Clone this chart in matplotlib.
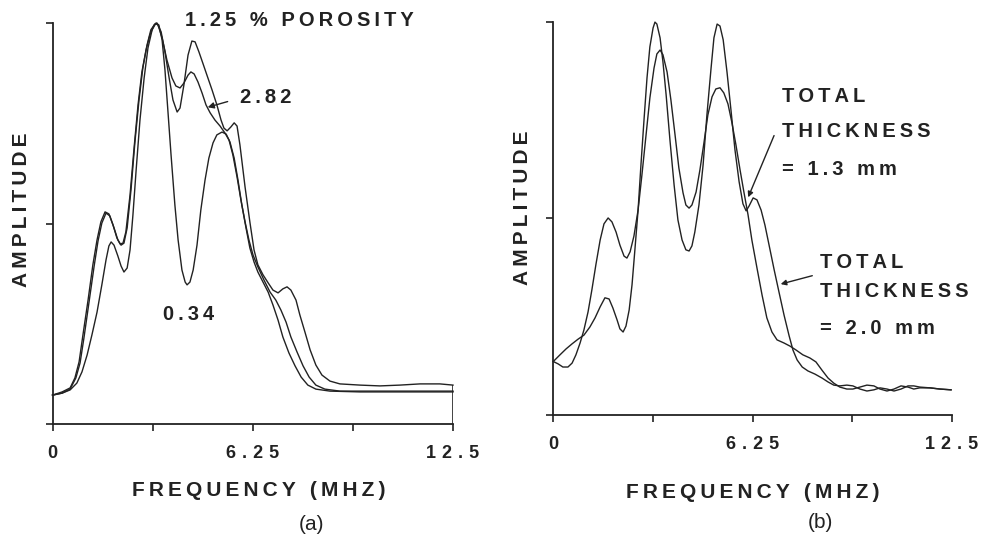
import matplotlib
matplotlib.use("Agg")
import matplotlib.pyplot as plt

# ---- data (frequency in MHz, amplitude normalised) ----
FREQ_MAX = 12.5
x_ticks = [0, 3.125, 6.25, 9.375, 12.5]
x_tick_labels = ["0", "", "6.25", "", "12.5"]
y_ticks = [0, 0.5, 1.0]

# (a) porosity 1.25 %
freq_125 = [0, 0.30, 0.55, 0.70, 0.83, 0.95, 1.11, 1.26, 1.39, 1.51, 1.64, 1.76, 1.89, 2.01,
            2.11, 2.20, 2.29, 2.42, 2.54, 2.67, 2.79, 2.92, 3.04, 3.17, 3.26, 3.39, 3.51, 3.64,
            3.76, 3.89, 3.98, 4.10, 4.23, 4.35, 4.45, 4.57, 4.70, 4.82, 4.98, 5.13, 5.26, 5.35,
            5.45, 5.57, 5.67, 5.76, 5.85, 6.01, 6.16, 6.29, 6.41, 6.57, 6.73, 6.88, 7.04, 7.19,
            7.32, 7.44, 7.60, 7.72, 7.88, 8.04, 8.22, 8.41, 8.66, 8.97, 9.60, 10.22, 10.84,
            11.47, 12.09, 12.5]
amp_125 = [0.072, 0.080, 0.090, 0.115, 0.155, 0.222, 0.309, 0.397, 0.459, 0.504, 0.529, 0.524,
           0.496, 0.464, 0.449, 0.451, 0.479, 0.571, 0.683, 0.796, 0.878, 0.933, 0.970, 0.995,
           1.000, 0.978, 0.928, 0.863, 0.808, 0.778, 0.788, 0.845, 0.920, 0.955, 0.953, 0.928,
           0.898, 0.870, 0.833, 0.796, 0.758, 0.738, 0.731, 0.741, 0.751, 0.743, 0.696, 0.591,
           0.504, 0.434, 0.397, 0.372, 0.352, 0.334, 0.327, 0.337, 0.342, 0.334, 0.309, 0.272,
           0.229, 0.185, 0.147, 0.122, 0.107, 0.100, 0.097, 0.095, 0.097, 0.100, 0.100, 0.097]

# (a) porosity 2.82 %
freq_282 = [0, 0.30, 0.55, 0.73, 0.86, 0.98, 1.14, 1.30, 1.42, 1.54, 1.67, 1.79, 1.92, 2.04,
            2.14, 2.23, 2.33, 2.45, 2.57, 2.70, 2.82, 2.95, 3.07, 3.20, 3.29, 3.42, 3.57, 3.73,
            3.85, 3.98, 4.10, 4.23, 4.32, 4.42, 4.54, 4.67, 4.79, 4.92, 5.07, 5.23, 5.38, 5.51,
            5.63, 5.76, 5.88, 6.01, 6.13, 6.26, 6.41, 6.60, 6.79, 6.97, 7.13, 7.29, 7.44, 7.63,
            7.82, 8.01, 8.22, 8.50, 8.97, 9.91, 10.84, 11.78, 12.5]
amp_282 = [0.072, 0.077, 0.087, 0.115, 0.152, 0.214, 0.304, 0.394, 0.456, 0.501, 0.526, 0.519,
           0.489, 0.459, 0.446, 0.451, 0.489, 0.584, 0.701, 0.808, 0.888, 0.945, 0.983, 0.998,
           0.996, 0.963, 0.908, 0.863, 0.843, 0.838, 0.850, 0.870, 0.878, 0.873, 0.853, 0.825,
           0.796, 0.776, 0.758, 0.743, 0.726, 0.708, 0.671, 0.616, 0.559, 0.504, 0.459, 0.421,
           0.392, 0.359, 0.329, 0.309, 0.284, 0.254, 0.217, 0.180, 0.145, 0.117, 0.097, 0.087,
           0.082, 0.082, 0.082, 0.082, 0.082]

# (a) porosity 0.34 %
freq_034 = [0, 0.30, 0.55, 0.76, 0.92, 1.08, 1.23, 1.39, 1.54, 1.67, 1.76, 1.83, 1.92, 2.04,
            2.14, 2.23, 2.33, 2.42, 2.51, 2.61, 2.73, 2.86, 2.98, 3.11, 3.23, 3.32, 3.42, 3.51,
            3.60, 3.70, 3.82, 3.92, 4.04, 4.14, 4.20, 4.29, 4.39, 4.51, 4.63, 4.76, 4.88, 5.01,
            5.13, 5.29, 5.42, 5.54, 5.67, 5.79, 5.91, 6.04, 6.16, 6.29, 6.41, 6.57, 6.73, 6.88,
            7.04, 7.19, 7.38, 7.57, 7.76, 7.97, 8.22, 8.66, 9.60, 10.84, 11.78, 12.5]
amp_034 = [0.072, 0.077, 0.085, 0.102, 0.130, 0.172, 0.222, 0.279, 0.347, 0.409, 0.444, 0.454,
           0.446, 0.419, 0.394, 0.379, 0.389, 0.434, 0.521, 0.633, 0.758, 0.863, 0.938, 0.983,
           1.000, 0.995, 0.958, 0.883, 0.783, 0.671, 0.546, 0.459, 0.384, 0.354, 0.347, 0.354,
           0.384, 0.446, 0.534, 0.608, 0.663, 0.701, 0.721, 0.728, 0.723, 0.703, 0.663, 0.608,
           0.546, 0.489, 0.439, 0.404, 0.379, 0.354, 0.329, 0.297, 0.259, 0.217, 0.177, 0.145,
           0.117, 0.097, 0.087, 0.082, 0.080, 0.080, 0.080, 0.080]

# (b) total thickness 1.3 mm
freq_13 = [0, 0.15, 0.30, 0.46, 0.59, 0.71, 0.84, 0.96, 1.09, 1.21, 1.34, 1.47, 1.59, 1.72,
           1.84, 1.97, 2.09, 2.22, 2.31, 2.41, 2.53, 2.66, 2.78, 2.91, 3.03, 3.16, 3.25, 3.35,
           3.44, 3.57, 3.69, 3.82, 3.94, 4.07, 4.16, 4.26, 4.35, 4.48, 4.60, 4.73, 4.85, 4.98,
           5.10, 5.23, 5.35, 5.48, 5.60, 5.73, 5.86, 5.98, 6.11, 6.23, 6.39, 6.55, 6.70, 6.86,
           7.02, 7.24, 7.43, 7.62, 7.83, 8.05, 8.24, 8.43, 8.62, 8.80, 8.99, 9.21, 9.40, 9.62,
           9.84, 10.06, 10.25, 10.47, 10.69, 10.91, 11.13, 11.31, 11.50, 11.82, 12.13, 12.48]
amp_13 = [0.136, 0.130, 0.122, 0.122, 0.132, 0.153, 0.183, 0.216, 0.262, 0.318, 0.384, 0.445,
          0.486, 0.501, 0.491, 0.465, 0.432, 0.404, 0.399, 0.415, 0.455, 0.521, 0.610, 0.712,
          0.806, 0.882, 0.918, 0.928, 0.916, 0.872, 0.801, 0.712, 0.628, 0.565, 0.534, 0.526,
          0.534, 0.567, 0.623, 0.694, 0.763, 0.809, 0.829, 0.832, 0.819, 0.791, 0.745, 0.687,
          0.623, 0.567, 0.509, 0.445, 0.374, 0.305, 0.247, 0.211, 0.191, 0.183, 0.175, 0.165,
          0.153, 0.145, 0.135, 0.114, 0.094, 0.081, 0.071, 0.066, 0.066, 0.071, 0.076, 0.074,
          0.066, 0.061, 0.066, 0.074, 0.071, 0.066, 0.069, 0.069, 0.066, 0.064]

# (b) total thickness 2.0 mm
freq_20 = [0, 0.21, 0.40, 0.59, 0.78, 0.96, 1.15, 1.31, 1.47, 1.62, 1.75, 1.87, 2.00, 2.09,
           2.19, 2.28, 2.38, 2.47, 2.56, 2.66, 2.75, 2.85, 2.94, 3.03, 3.13, 3.19, 3.25, 3.35,
           3.44, 3.54, 3.66, 3.79, 3.91, 4.04, 4.16, 4.26, 4.35, 4.44, 4.57, 4.70, 4.82, 4.95,
           5.04, 5.14, 5.23, 5.33, 5.45, 5.58, 5.70, 5.83, 5.95, 6.05, 6.14, 6.27, 6.39, 6.52,
           6.64, 6.77, 6.93, 7.08, 7.24, 7.40, 7.52, 7.65, 7.81, 7.99, 8.21, 8.43, 8.62, 8.80,
           8.99, 9.21, 9.40, 9.62, 9.84, 10.06, 10.25, 10.47, 10.69, 10.91, 11.13, 11.31, 11.50,
           11.82, 12.13, 12.48]
amp_20 = [0.136, 0.153, 0.168, 0.181, 0.193, 0.203, 0.224, 0.247, 0.275, 0.298, 0.295, 0.272,
          0.242, 0.219, 0.211, 0.226, 0.267, 0.331, 0.420, 0.521, 0.636, 0.755, 0.857, 0.936,
          0.984, 0.999, 0.994, 0.959, 0.898, 0.814, 0.699, 0.585, 0.496, 0.445, 0.420, 0.417,
          0.430, 0.465, 0.534, 0.636, 0.763, 0.882, 0.959, 0.994, 0.989, 0.954, 0.872, 0.771,
          0.674, 0.593, 0.537, 0.519, 0.531, 0.552, 0.547, 0.521, 0.483, 0.432, 0.369, 0.313,
          0.254, 0.201, 0.165, 0.140, 0.122, 0.112, 0.104, 0.094, 0.084, 0.076, 0.074, 0.076,
          0.074, 0.066, 0.061, 0.064, 0.069, 0.066, 0.061, 0.066, 0.074, 0.074, 0.071, 0.069,
          0.066, 0.064]

INK = "#222222"
FONT = ["Liberation Sans", "DejaVu Sans"]
W, H = 993, 542


def track(s, sep="\u2009"):
    # wide letter spacing of the typewritten labels
    return sep.join(s)


def px(x, y):
    return x / W, 1 - y / H


fig = plt.figure(figsize=(9.93, 5.42), dpi=100)
fig.patch.set_facecolor("white")

ax_a = fig.add_axes([52.5 / W, 1 - 424 / H, 400.5 / W, 401 / H])
ax_b = fig.add_axes([553.3 / W, 1 - 415 / H, 398.4 / W, 393.3 / H])

for ax in (ax_a, ax_b):
    ax.set_xlim(0, FREQ_MAX)
    ax.set_ylim(0, 1.0)
    for side in ("top", "right"):
        ax.spines[side].set_visible(False)
    for side in ("left", "bottom"):
        ax.spines[side].set_linewidth(1.3)
        ax.spines[side].set_color(INK)
    ax.set_xticks(x_ticks)
    ax.set_xticklabels([track(t, "\u2004") for t in x_tick_labels])
    ax.set_yticks(y_ticks)
    ax.set_yticklabels([])
    ax.tick_params(axis="x", direction="out", length=5, width=1.2, color=INK, pad=10,
                   labelsize=13, labelcolor=INK)
    ax.tick_params(axis="y", direction="out", length=5, width=1.2, color=INK)
    for lab in ax.get_xticklabels():
        lab.set_family(FONT)
        lab.set_fontweight("bold")
    ax.patch.set_alpha(0)

lw = 1.0
ax_a.plot(freq_125, amp_125, color=INK, lw=lw, clip_on=False)
ax_a.plot(freq_282, amp_282, color=INK, lw=lw, clip_on=False)
ax_a.plot(freq_034, amp_034, color=INK, lw=lw, clip_on=False)
ax_a.vlines(FREQ_MAX, 0, amp_125[-1], color=INK, lw=1.2)

ax_b.plot(freq_13, amp_13, color=INK, lw=lw, clip_on=False)
ax_b.plot(freq_20, amp_20, color=INK, lw=lw, clip_on=False)

lab_kw = dict(family=FONT, fontweight="bold", color=INK)

# annotations (a)
ax_a.text(4.14, 1.007, track("1.25 % POROSITY"), fontsize=14.5, ha="left", va="center",
          clip_on=False, **lab_kw)
ax_a.text(5.85, 0.813, track("2.82"), fontsize=14.5, ha="left", va="center", **lab_kw)
ax_a.text(3.45, 0.272, track("0.34"), fontsize=14.5, ha="left", va="center", **lab_kw)
ax_a.annotate("", xy=(4.76, 0.788), xytext=(5.55, 0.806),
              arrowprops=dict(arrowstyle="-|>", color=INK, lw=1.0, mutation_scale=9))

# annotations (b)
for i, line in enumerate(["TOTAL", "THICKNESS", "= 1.3 mm"]):
    ax_b.text(7.18, [0.809, 0.720, 0.623][i], track(line), fontsize=14.5, ha="left",
              va="center", **lab_kw)
for i, line in enumerate(["TOTAL", "THICKNESS", "= 2.0 mm"]):
    ax_b.text(8.37, [0.387, 0.313, 0.221][i], track(line), fontsize=14.5, ha="left",
              va="center", clip_on=False, **lab_kw)
ax_b.annotate("", xy=(6.08, 0.547), xytext=(6.96, 0.717),
              arrowprops=dict(arrowstyle="-|>", color=INK, lw=1.0, mutation_scale=8))
ax_b.annotate("", xy=(7.05, 0.331), xytext=(8.21, 0.356),
              arrowprops=dict(arrowstyle="-|>", color=INK, lw=1.0, mutation_scale=8))

# axis titles and panel letters
fig.text(*px(22, 210), track("AMPLITUDE"), rotation=90, fontsize=15, ha="center",
         va="center", **lab_kw)
fig.text(*px(523, 208), track("AMPLITUDE"), rotation=90, fontsize=15, ha="center",
         va="center", **lab_kw)
fig.text(*px(259, 490), track("FREQUENCY (MHZ)"), fontsize=15, ha="center", va="center",
         **lab_kw)
fig.text(*px(753, 492), track("FREQUENCY (MHZ)"), fontsize=15, ha="center", va="center",
         **lab_kw)
fig.text(*px(311, 525), "(a)", fontsize=15, ha="center", va="center", family=FONT,
         color=INK)
fig.text(*px(820, 523), "(b)", fontsize=15, ha="center", va="center", family=FONT,
         color=INK)

fig.savefig("out.png", dpi=100, facecolor="white")
